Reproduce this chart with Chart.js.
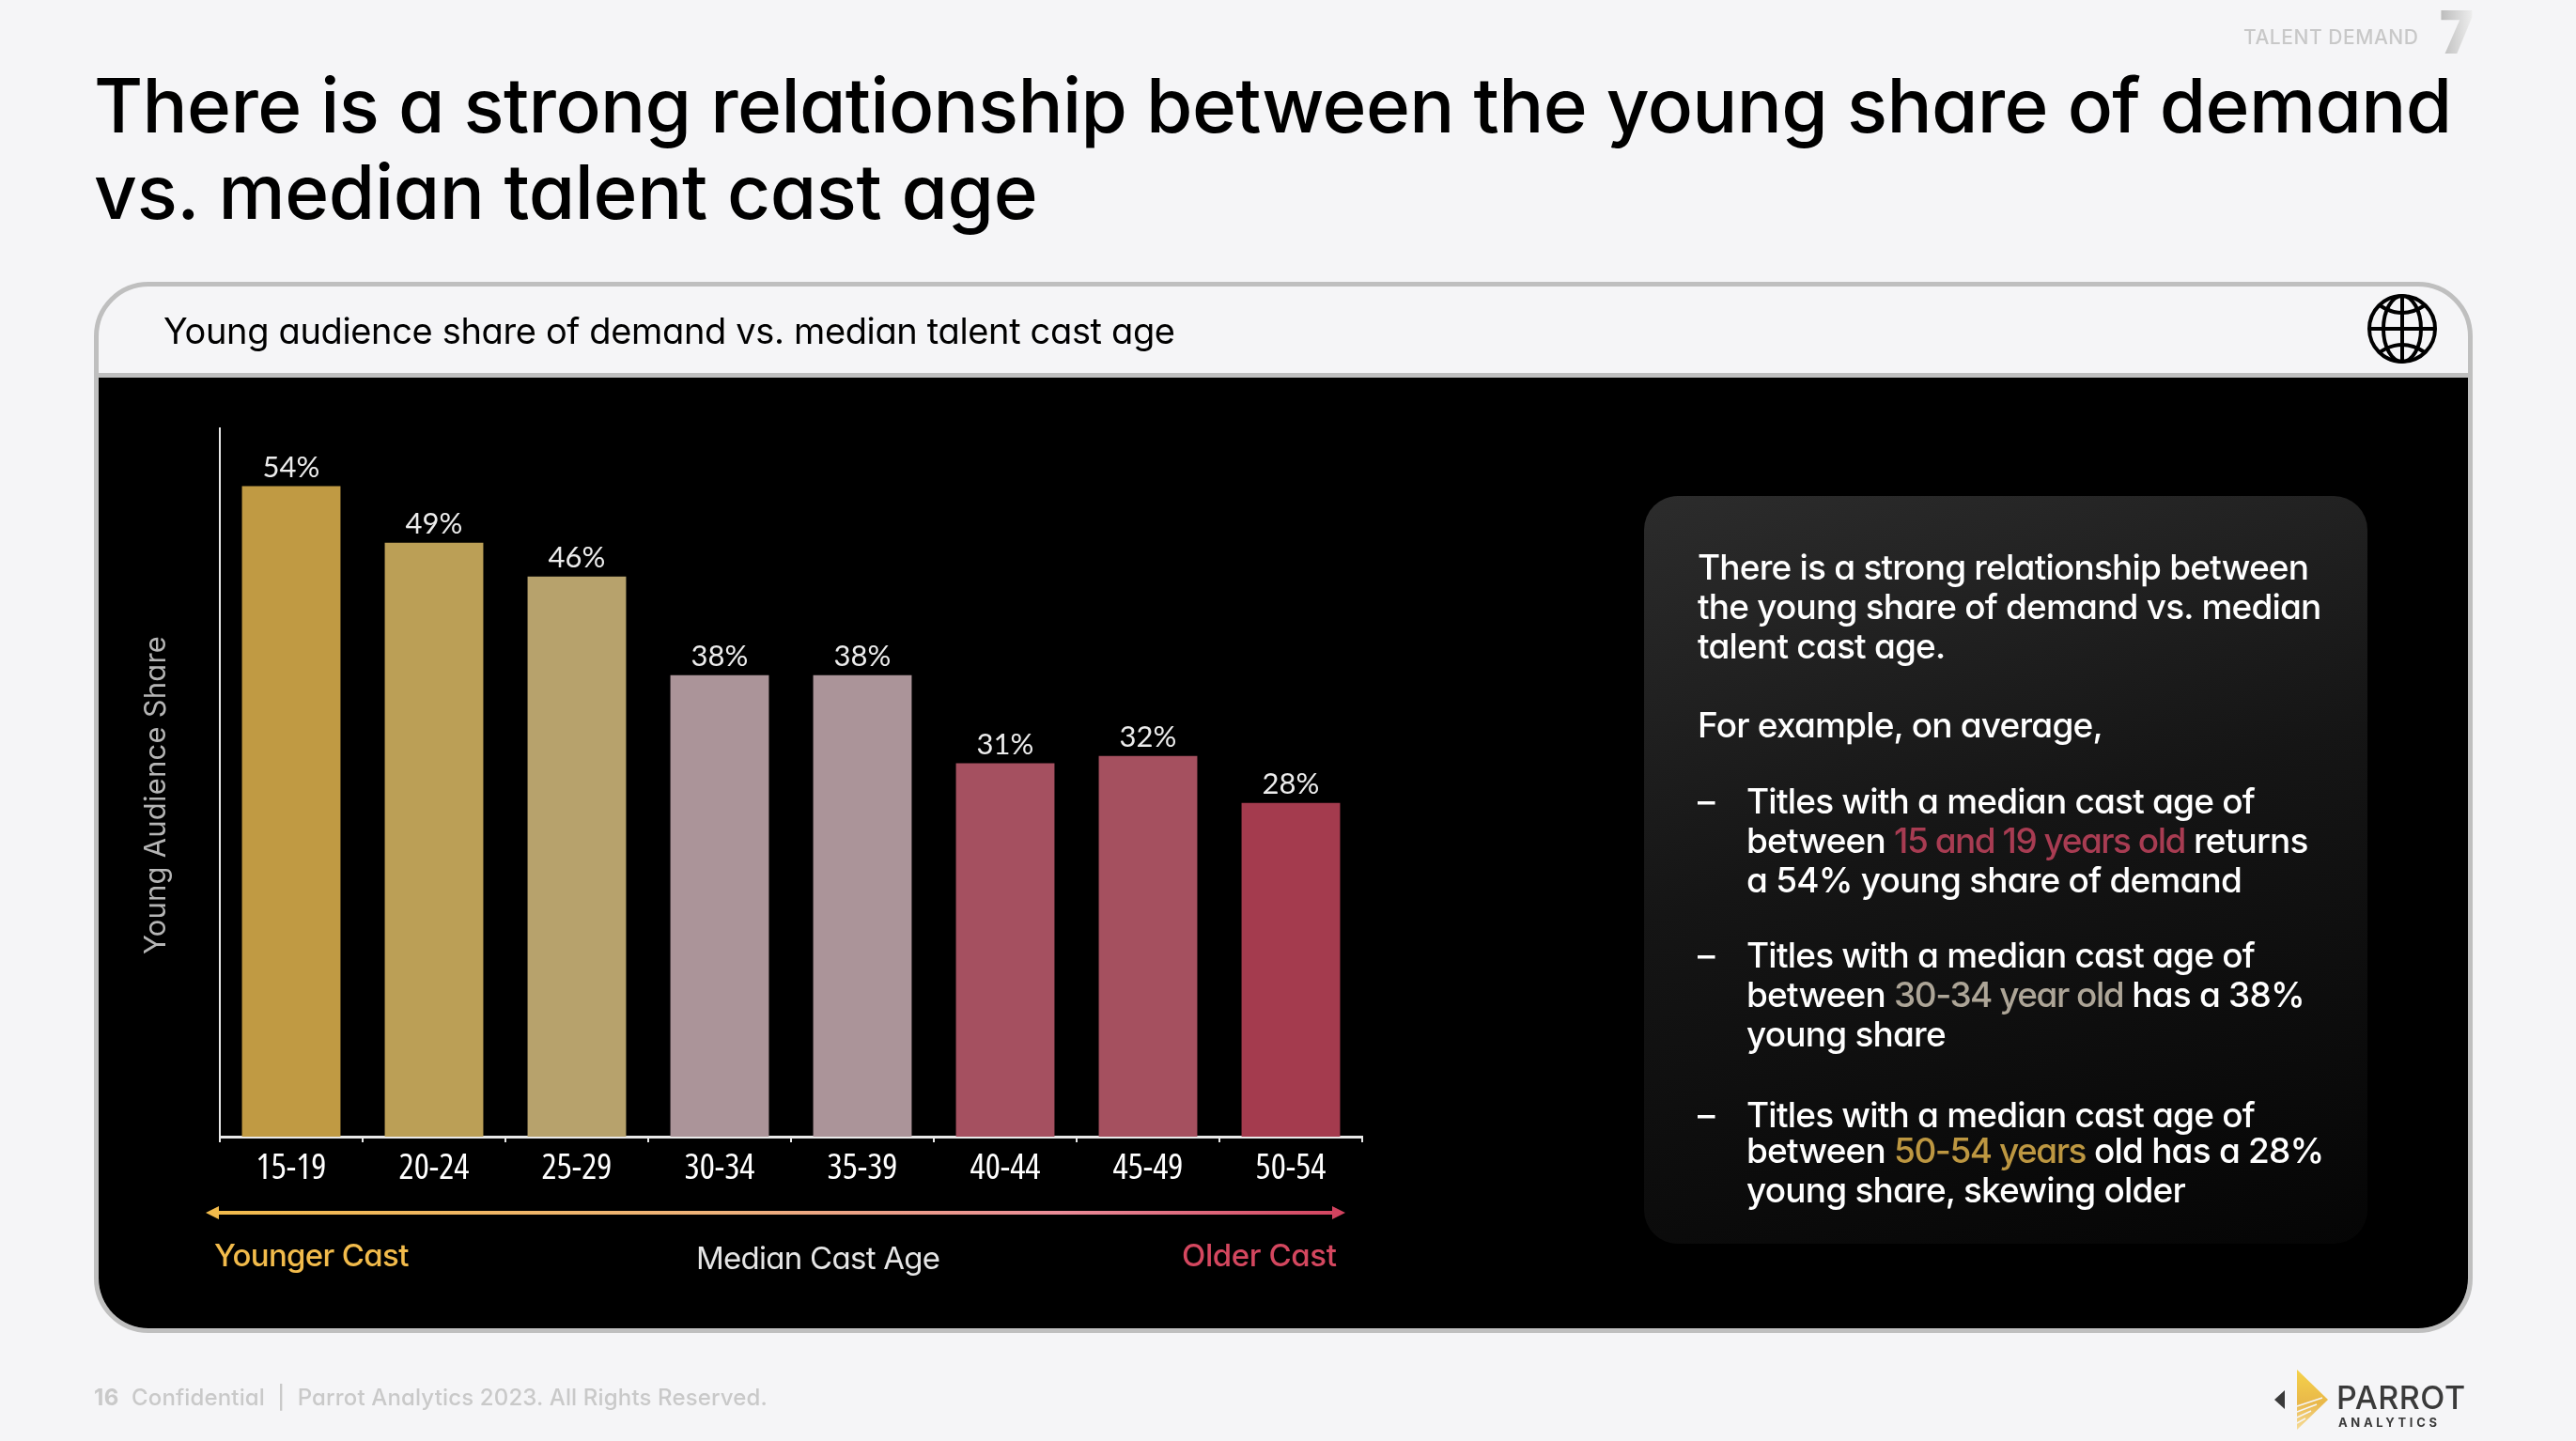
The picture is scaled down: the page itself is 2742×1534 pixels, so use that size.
<!DOCTYPE html>
<html>
<head>
<meta charset="utf-8">
<title>Young audience share of demand vs. median talent cast age</title>
<script src="https://cdn.jsdelivr.net/npm/chart.js"></script>
<style>
  html, body { margin: 0; padding: 0; }
  body {
    width: 2742px; height: 1534px; position: relative; overflow: hidden;
    background: #f5f5f7; color: #000;
    font-family: Inter, 'Noto Sans', sans-serif;
    font-feature-settings: 'cv11' 1;
  }
  .t { position: absolute; white-space: pre; line-height: 1; }
  #card {
    position: absolute; left: 100px; top: 300px; width: 2532px; height: 1119px;
    box-sizing: border-box; border: 5px solid #bfbfbf; border-radius: 58px;
    background: #f5f5f7; overflow: hidden;
  }
  #black {
    position: absolute; left: 0; top: 92px; right: 0; bottom: 0;
    background: #000; border-top: 5px solid #bfbfbf;
  }
  #panel {
    position: absolute; left: 1750px; top: 528px; width: 770px; height: 796px;
    border-radius: 36px;
    background: linear-gradient(165deg, #2c2c2c 0%, #151515 45%, #050505 100%);
  }
  #chart { position: absolute; left: 130px; top: 440px; }
  #seven {
    position: absolute; left: 2596px; top: 1px; font: 800 64px/1 'Open Sans', sans-serif;
    background: linear-gradient(90deg, #b9b9b9, #f1f1f1);
    -webkit-background-clip: text; background-clip: text; color: transparent;
  }
  svg { position: absolute; overflow: visible; }
</style>
</head>
<body>
<div id="card"><div id="black"></div></div>
<div id="panel"></div>
<canvas id="chart" width="1340" height="830"></canvas>

<svg style="left:0;top:0" width="2742" height="1534">
  <defs>
    <linearGradient id="arrowGrad" gradientUnits="userSpaceOnUse" x1="219" y1="0" x2="1432" y2="0">
      <stop offset="0" stop-color="#f2bb4b"/>
      <stop offset="0.45" stop-color="#eeb27a"/>
      <stop offset="0.75" stop-color="#ea8c98"/>
      <stop offset="1" stop-color="#d2435f"/>
    </linearGradient>
    <linearGradient id="logoGrad" x1="0" y1="0" x2="0" y2="1">
      <stop offset="0" stop-color="#f5d24a"/>
      <stop offset="0.55" stop-color="#e9b84a"/>
      <stop offset="1" stop-color="#f6dc9a"/>
    </linearGradient>
  </defs>
  <rect x="233" y="1289" width="1185" height="4" fill="url(#arrowGrad)"/>
  <path d="M219 1291 L233 1284 L233 1298 Z" fill="#f2bb4b"/>
  <path d="M1432 1291 L1418 1284 L1418 1298 Z" fill="#d2435f"/>

  <g fill="none" stroke="#000" stroke-width="4">
    <circle cx="2557" cy="350" r="35"/>
    <ellipse cx="2557" cy="350" rx="20" ry="35"/>
    <path d="M2557 315 V385 M2522 350 H2592"/>
    <path d="M2533 325 Q2557 341 2581 325 M2533 375 Q2557 359 2581 375"/>
  </g>

  <path d="M2432 1480 L2421 1490 L2432 1500 Z" fill="#3a3a3a"/>
  <path d="M2445 1458 L2478 1490 L2445 1522 Z" fill="url(#logoGrad)"/>
  <g stroke="#f5f5f7" stroke-width="1.5">
    <path d="M2445 1497 L2472 1488 M2445 1503 L2466 1495 M2445 1509 L2460 1502 M2445 1515 L2454 1510"/>
  </g>
</svg>

<script>
const categories = ['15-19', '20-24', '25-29', '30-34', '35-39', '40-44', '45-49', '50-54'];
const barValues = [54, 49.3, 46.5, 38.3, 38.3, 31, 31.6, 27.7];
const barLabels = ['54%', '49%', '46%', '38%', '38%', '31%', '32%', '28%'];
const barColors = ['#c09a43', '#bb9f56', '#b7a26c', '#ab9499', '#ab9499', '#a55060', '#a5505f', '#a43b4e'];

// left, centre y, font size, colour, target width, weight, text
const textItems = [
  [100, 112, 80, '#000', 2510, 500, 'There is a strong relationship between the young share of demand'],
  [100, 204, 80, '#000', 1004, 500, 'vs. median talent cast age'],
  [174, 352, 38, '#000', 1077, 400, 'Young audience share of demand vs. median talent cast age'],
  [2388, 39, 21, '#c8c8c8', 186, 500, 'TALENT DEMAND'],
  [228, 1336, 33, '#f2bb4b', 207, 500, 'Younger Cast'],
  [741, 1339, 33, '#e6e6e6', 259, 400, 'Median Cast Age'],
  [1258, 1336, 33, '#d4475f', 165, 500, 'Older Cast'],
  [100, 1488, 24, '#c9c9c9', 27, 700, '16'],
  [140, 1488, 24, '#c9c9c9', 677, 500, 'Confidential  |  Parrot Analytics 2023. All Rights Reserved.'],
  [2487, 1488, 34, '#3a3a3a', 138, 500, 'PARROT'],
  [2489, 1514, 13, '#3a3a3a', 109, 700, 'ANALYTICS']
];

const gold = '#bd9741', taupe = '#ada597', rose = '#a83c52';
const panelLines = [
  [1807, 603, ['There is a strong relationship between']],
  [1807, 645, ['the young share of demand vs. median']],
  [1807, 687, ['talent cast age.']],
  [1807, 771, ['For example, on average,']],
  [1807, 852, ['–']],
  [1859, 852, ['Titles with a median cast age of']],
  [1859, 894, ['between ', [rose, '15 and 19 years old'], ' returns']],
  [1859, 936, ['a 54% young share of demand']],
  [1807, 1016, ['–']],
  [1859, 1016, ['Titles with a median cast age of']],
  [1859, 1058, ['between ', [taupe, '30-34 year old'], ' has a 38%']],
  [1859, 1100, ['young share']],
  [1807, 1186, ['–']],
  [1859, 1186, ['Titles with a median cast age of']],
  [1859, 1224, ['between ', [gold, '50-54 years'], ' old has a 28%']],
  [1859, 1266, ['young share, skewing older']]
];

function addText(x, cy, size, color, weight) {
  const el = document.createElement('div');
  el.className = 't';
  el.style.left = x + 'px';
  el.style.top = (cy - size / 2) + 'px';
  el.style.fontSize = size + 'px';
  el.style.color = color;
  el.style.fontWeight = weight;
  document.body.appendChild(el);
  return el;
}

for (const [x, cy, size, color, width, weight, text] of textItems) {
  const el = addText(x, cy, size, color, weight);
  el.textContent = text;
  // stretch the letter spacing so that the line is as wide as in the slide
  el.style.letterSpacing = ((width - el.offsetWidth) / text.length) + 'px';
}

for (const [x, cy, parts] of panelLines) {
  const el = addText(x, cy, 37, '#fff', 500);
  el.style.letterSpacing = '-0.8px';
  for (const part of parts) {
    if (typeof part === 'string') {
      el.appendChild(document.createTextNode(part));
    } else {
      const s = document.createElement('span');
      s.style.color = part[0];
      s.style.letterSpacing = '-1.5px';
      s.textContent = part[1];
      el.appendChild(s);
    }
  }
}

// rotated axis title, an html element so that it keeps the slide's letter shapes
const yTitle = addText(0, 846, 31, '#b5b5b5', 400);
yTitle.textContent = 'Young Audience Share';
yTitle.style.letterSpacing = ((339 - yTitle.offsetWidth) / 20) + 'px';
yTitle.style.left = (164 - yTitle.offsetWidth / 2) + 'px';
yTitle.style.transform = 'rotate(-90deg)';

const seven = document.createElement('div');
seven.id = 'seven';
seven.textContent = '7';
document.body.appendChild(seven);

const valueLabels = {
  id: 'valueLabels',
  afterDatasetsDraw(chart) {
    const ctx = chart.ctx;
    ctx.save();
    ctx.font = "31px Lato, sans-serif";
    ctx.fillStyle = '#ececec';
    ctx.textAlign = 'center';
    ctx.textBaseline = 'bottom';
    chart.getDatasetMeta(0).data.forEach((bar, i) => {
      ctx.fillText(barLabels[i], bar.x, bar.y - 4);
    });
    ctx.restore();
  }
};

new Chart(document.getElementById('chart'), {
  type: 'bar',
  data: {
    labels: categories,
    datasets: [{
      data: barValues,
      backgroundColor: barColors,
      barPercentage: 0.69,
      categoryPercentage: 1
    }]
  },
  options: {
    responsive: false,
    animation: false,
    devicePixelRatio: 1,
    layout: { padding: { top: 16, right: 20 } },
    plugins: { legend: { display: false }, tooltip: { enabled: false } },
    scales: {
      x: {
        afterFit: scale => { scale.height = 60; },
        border: { color: '#e8e8e8', width: 3 },
        grid: { drawOnChartArea: false, drawTicks: true, tickLength: 6, color: '#e8e8e8', lineWidth: 2 },
        ticks: {
          color: '#ffffff',
          padding: 5,
          maxRotation: 0,
          // the keyword goes into the canvas font string and picks the condensed face
          font: { family: "'Open Sans', sans-serif", weight: 'condensed', size: 38 }
        }
      },
      y: {
        min: 0,
        max: 58.8,
        afterFit: scale => { scale.width = 104; },
        border: { color: '#e8e8e8', width: 2 },
        grid: { display: false },
        ticks: { display: false }
      }
    }
  },
  plugins: [valueLabels]
});
</script>
</body>
</html>
